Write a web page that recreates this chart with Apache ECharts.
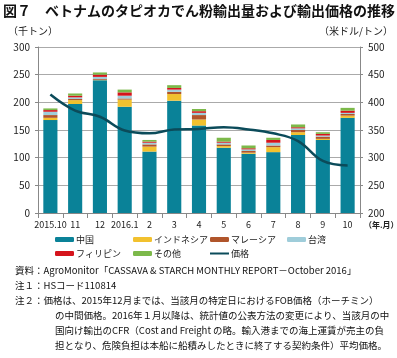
<!DOCTYPE html>
<html><head><meta charset="utf-8">
<script src="https://cdn.jsdelivr.net/npm/echarts@6/dist/echarts.min.js"></script>
<style>html,body{margin:0;padding:0;background:#fff}#c{width:397px;height:358px}</style>
</head><body><div id="c"></div>
<script>
const categories = ['2015.10','11','12','2016.1','2','3','4','5','6','7','8','9','10'];
const china = [168,197,240,192,111,203,158,118,107,110,141,132,172];
const indonesia = [4,7,0.5,13,9,12,11,3,2,9,5,2,4];
const malaysia = [5,2,1.5,2,4,4,8,3,3,3,4,4,3];
const taiwan = [6,3,4,5,3,4,4,3,3,5,3,2,2];
const philippines = [3,3,4,6,2,3,3,2,2,5,2,3,4];
const others = [3,4,4,5,3,5,4,7,5,4,5,3,5];
const price = [414,385,374,349,344,351,352,355,351,344,330,294,286];
const leftTicks = [0,50,100,150,200,250,300];
const rightTicks = [200,250,300,350,400,450,500];

const FONT = '"Noto Sans CJK JP", sans-serif';
const colors = {
  '中国':'#0a8298','インドネシア':'#f2c12e','マレーシア':'#b0552b','台湾':'#9fcdda',
  'フィリピン':'#d5141c','その他':'#7cb94a','価格':'#0b4b5a'
};
const names = ['中国','インドネシア','マレーシア','台湾','フィリピン','その他'];
const vals = [china,indonesia,malaysia,taiwan,philippines,others];

const series = names.map((n,i)=>({
  name:n, type:'bar', stack:'a', data:vals[i], barWidth:'57%',
  itemStyle:{color:colors[n]}
}));
series.push({name:'価格', type:'line', yAxisIndex:1, data:price, smooth:0.4,
  symbol:'none', lineStyle:{color:colors['価格'], width:2.5}, itemStyle:{color:colors['価格']}});

const legendPos = [
  ['中国',55,235],['インドネシア',133,235],['マレーシア',210,235],['台湾',287,235],
  ['フィリピン',55,249],['その他',133,249],['価格',210,249]
];
const legends = legendPos.map(([n,x,y])=>({
  data:[n==='価格'?{name:n,icon:'rect',itemStyle:{color:colors[n]}}:{name:n}], left:x, top:y,
  itemWidth:19, itemHeight: n==='価格'?2:5, itemGap:0, padding:0,
  textStyle:{fontFamily:FONT,fontSize:9,color:'#222',padding:[0,0,0,-3]},
  selectedMode:false
}));

const notes = [
  ['資料：AgroMonitor「CASSAVA & STARCH MONTHLY REPORT－October 2016」',15,273],
  ['注１：HSコード110814',15,288],
  ['注２：価格は、2015年12月までは、当該月の特定日におけるFOB価格（ホーチミン）',15,303],
  ['の中間価格。2016年１月以降は、統計値の公表方法の変更により、当該月の中',55,318],
  ['国向け輸出のCFR（Cost and Freight の略。輸入港までの海上運賃が売主の負',55,333],
  ['担となり、危険負担は本船に船積みしたときに終了する契約条件）平均価格。',55,348]
];

const graphics = [
  {type:'text', left:3, top:4, style:{text:'図７　ベトナムのタピオカでん粉輸出量および輸出価格の推移', font:'bold 14px '+FONT, fill:'#111'}},
  {type:'text', left:8, top:26, style:{text:'（千トン）', font:'10px '+FONT, fill:'#222'}},
  {type:'text', right:4, top:26, style:{text:'（米ドル/トン）', font:'10px '+FONT, fill:'#222'}},
  {type:'text', left:364, top:221, style:{text:'（年.月）', font:'bold 8px '+FONT, fill:'#222'}}
].concat(notes.map(([t,x,y])=>({type:'text', left:x, top:y-7, style:{text:t, font:'9.5px '+FONT, fill:'#111'}})));

const chart = echarts.init(document.getElementById('c'), null, {renderer:'canvas'});
chart.setOption({
  animation:false,
  grid:{left:38, right:37, top:47, bottom:145},
  legend:legends,
  xAxis:{type:'category', data:categories,
    axisLine:{lineStyle:{color:'#888'}}, axisTick:{show:true, lineStyle:{color:'#888'}},
    axisLabel:{color:'#222', fontFamily:FONT, fontSize:9, margin:7, interval:0}},
  yAxis:[
    {type:'value', min:0, max:300, interval:50,
     axisLine:{show:true, lineStyle:{color:'#888'}}, axisTick:{show:true, inside:false, length:3, lineStyle:{color:'#888'}},
     splitLine:{lineStyle:{color:'#aaa'}},
     axisLabel:{color:'#222', fontFamily:FONT, fontSize:10, margin:8}},
    {type:'value', min:200, max:500, interval:50,
     axisLine:{show:true, lineStyle:{color:'#888'}}, axisTick:{show:true, length:3, lineStyle:{color:'#888'}},
     splitLine:{show:false},
     axisLabel:{color:'#222', fontFamily:FONT, fontSize:10, margin:8}}
  ],
  series:series,
  graphic:graphics
});
</script></body></html>
